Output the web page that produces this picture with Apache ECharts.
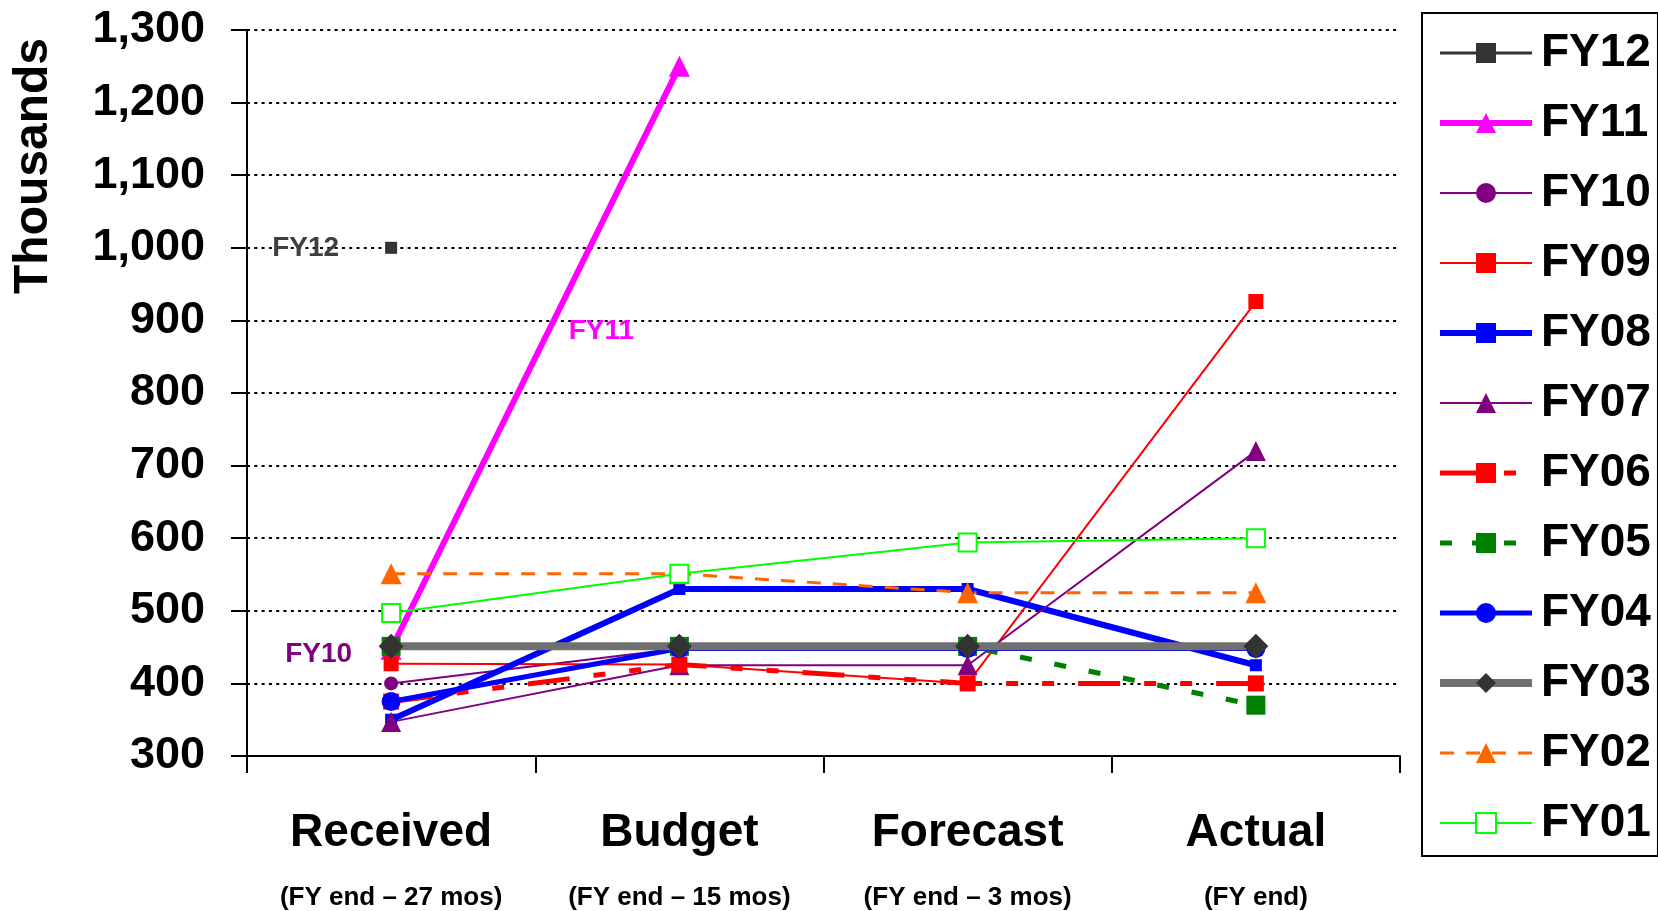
<!DOCTYPE html>
<html><head><meta charset="utf-8">
<script src="https://cdn.jsdelivr.net/npm/echarts@6/dist/echarts.min.js"></script>
<style>html,body{margin:0;padding:0;background:#fff}#c{width:1658px;height:911px}</style>
</head><body><div id="c"></div>
<script>
// ---- data ----
const categories = ['Received', 'Budget', 'Forecast', 'Actual'];
const categoryNotes = ['(FY end \u2013 27 mos)', '(FY end \u2013 15 mos)', '(FY end \u2013 3 mos)', '(FY end)'];
const yMin = 300, yMax = 1300, yStep = 100;
const seriesNames = ['FY12','FY11','FY10','FY09','FY08','FY07','FY06','FY05','FY04','FY03','FY02','FY01'];
const fy12 = [1000, null, null, null];
const fy11 = [447, 1250, null, null];
const fy10 = [400, 448, 450, null];
const fy09 = [427, 426, 400, 926];
const fy08 = [350, 530, 530, 425];
const fy07 = [347, 425, 425, 720];
const fy06 = [375, 426, 400, 400];
const fy05 = [451, 451, 451, 370];
const fy04 = [375, 448, 448, 448];
const fy03 = [451, 451, 451, 451];
const fy02 = [551, 551, 525, 525];
const fy01 = [497, 551, 594, 600];

const FONT = '"Liberation Sans", Arial, sans-serif';

function withLabel(arr, idx, label) {
  return arr.map((v, i) => i === idx ? { value: v, label: Object.assign({ show: true, formatter: '{a}', fontFamily: FONT, fontWeight: 'bold', fontSize: 28 }, label) } : v);
}

const styles = {};
function mk(name, data, o) {
  styles[name] = o;
  return {
    name: name, type: 'line', data: data,
    symbol: o.symbol, symbolSize: o.size,
    connectNulls: false,
    lineStyle: { color: o.line, width: o.width, type: o.dash || 'solid' },
    itemStyle: { color: o.mark || o.line },
    color: o.mark || o.line,
    emphasis: { disabled: true },
    animation: false
  };
}

const series = [
  mk('FY12', withLabel(fy12, 0, { position: 'left', distance: 46, color: '#404040' }), { symbol: 'rect', size: 12, line: '#333333', width: 3 }),
  mk('FY11', withLabel(fy11, 1, { position: 'inside', offset: [-78, 265], color: '#FF00FF' }), { symbol: 'triangle', size: 21, line: '#FF00FF', width: 6 }),
  mk('FY10', withLabel(fy10, 0, { position: 'left', distance: 32, offset: [0, -29], color: '#800080' }), { symbol: 'circle', size: 14, line: '#800080', width: 2 }),
  mk('FY09', fy09, { symbol: 'rect', size: 15, line: '#FF0000', width: 2 }),
  mk('FY08', fy08, { symbol: 'rect', size: 12, line: '#0000FF', width: 6 }),
  mk('FY07', fy07, { symbol: 'triangle', size: 20, line: '#800080', width: 2 }),
  mk('FY06', fy06, { symbol: 'rect', size: 16, line: '#FF0000', width: 5, dash: [42, 24, 12, 24, 12, 24] }),
  mk('FY05', fy05, { symbol: 'rect', size: 19, line: '#008000', width: 5, dash: [12, 23] }),
  mk('FY04', fy04, { symbol: 'circle', size: 19, line: '#0000FF', width: 5 }),
  mk('FY03', fy03, { symbol: 'diamond', size: 25, line: '#707070', mark: '#333333', width: 8 }),
  mk('FY02', fy02, { symbol: 'triangle', size: 21, line: '#FF6600', width: 3, dash: [14, 12] }),
  mk('FY01', fy01, { symbol: 'emptyRect', size: 18, line: '#00FF00', width: 2 })
];

const legendData = seriesNames.map(n => ({
  name: n,
  lineStyle: { width: styles[n].width, color: styles[n].line, type: n === 'FY06' ? [42, 22, 12, 22] : n === 'FY05' ? [12, 20] : (styles[n].dash || 'solid') }
}));

const chart = echarts.init(document.getElementById('c'), null, { renderer: 'canvas' });
chart.setOption({
  animation: false,
  backgroundColor: '#ffffff',
  grid: { left: 247, right: 258, top: 30, bottom: 155, containLabel: false },
  legend: {
    data: legendData,
    orient: 'vertical',
    left: 1422, top: 13,
    padding: [17, 7, 10, 14],
    itemWidth: 92, itemHeight: 25, itemGap: 24,
    borderColor: '#000', borderWidth: 2,
    selectedMode: false,
    textStyle: { fontFamily: FONT, fontWeight: 'bold', fontSize: 46, color: '#000', padding: [0, 0, 0, 4] }
  },
  xAxis: {
    type: 'category', data: categories, boundaryGap: true,
    axisLine: { lineStyle: { color: '#000', width: 2 } },
    axisTick: { show: true, length: 17, lineStyle: { color: '#000', width: 2 } },
    splitLine: { show: false },
    axisLabel: {
      interval: 0, margin: 49,
      formatter: function (v, i) { return '{a|' + v + '}\n{b|' + categoryNotes[i] + '}'; },
      rich: {
        a: { fontFamily: FONT, fontWeight: 'bold', fontSize: 46, lineHeight: 56, color: '#000' },
        b: { fontFamily: FONT, fontWeight: 'bold', fontSize: 26, lineHeight: 74, color: '#000' }
      }
    }
  },
  yAxis: {
    type: 'value', min: yMin, max: yMax, interval: yStep,
    axisLine: { show: true, lineStyle: { color: '#000', width: 2 } },
    axisTick: { show: true, length: 16, lineStyle: { color: '#000', width: 2 } },
    splitLine: { show: true, lineStyle: { color: '#000', width: 2, type: [3, 4.3] } },
    axisLabel: {
      margin: 42, fontFamily: FONT, fontWeight: 'bold', fontSize: 45, color: '#000',
      formatter: function (v) { return v.toLocaleString('en-US'); }
    }
  },
  graphic: [{
    type: 'text', x: 34, y: 166, rotation: Math.PI / 2,
    style: { text: 'Thousands', fontFamily: FONT, fontWeight: 'bold', fontSize: 48, fill: '#000', align: 'center', verticalAlign: 'middle' }
  }],
  series: series
});
</script>
</body></html>
